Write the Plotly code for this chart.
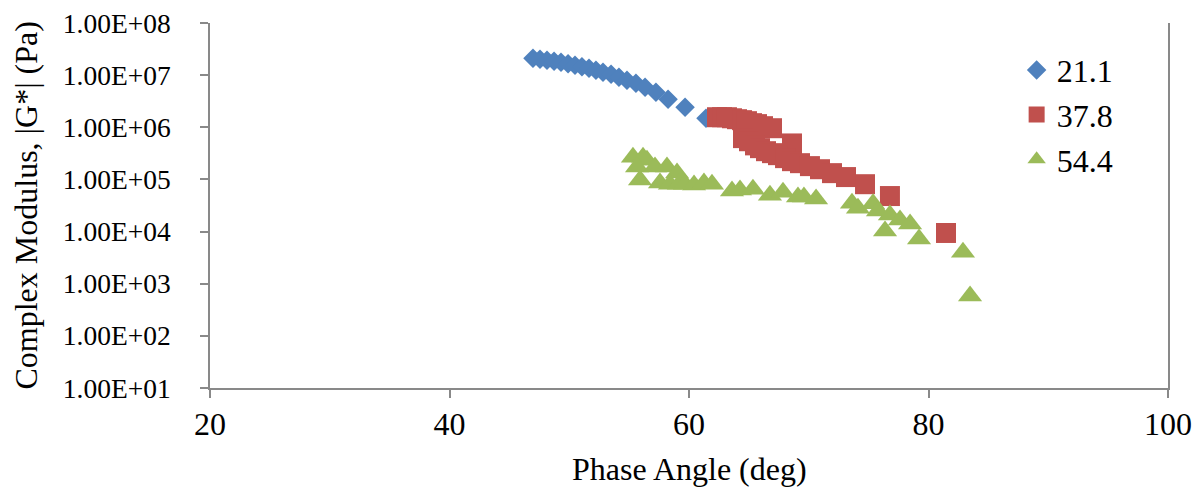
import plotly.graph_objects as go

# Series 21.1
phase_211 = [46.97, 47.56, 48.14, 48.73, 49.31, 49.90, 50.48, 51.06, 51.65, 52.23,
             52.82, 53.49, 54.15, 54.82, 55.57, 56.33, 57.24, 58.25, 59.67, 61.42]
g_211 = [2.11e7, 2.02e7, 1.93e7, 1.85e7, 1.77e7, 1.65e7, 1.55e7, 1.45e7, 1.36e7, 1.24e7,
         1.14e7, 1.04e7, 9.1e6, 8.0e6, 7.0e6, 5.87e6, 4.71e6, 3.45e6, 2.43e6, 1.49e6]

# Series 37.8
phase_378 = [62.34, 62.76, 63.17, 63.59, 64.01, 64.43, 64.84, 65.26, 65.68, 66.18, 66.93,
             68.60,
             64.51, 65.01, 65.51, 65.93, 66.43, 66.93, 67.43, 68.02, 68.60, 69.27,
             70.10, 70.94, 71.94, 73.11, 74.70, 76.78, 81.46]
g_378 = [1.56e6, 1.56e6, 1.56e6, 1.49e6, 1.43e6, 1.37e6, 1.31e6, 1.20e6, 1.15e6, 1.05e6, 9.6e5,
         4.9e5,
         6.2e5, 5.4e5, 4.5e5, 3.98e5, 3.48e5, 3.19e5, 2.92e5, 2.56e5, 2.24e5, 2.05e5,
         1.80e5, 1.57e5, 1.32e5, 1.11e5, 8.1e4, 4.8e4, 9.4e3]

# Series 54.4
phase_544 = [55.32, 56.16, 56.49, 55.66, 55.91, 57.16, 58.16, 59.00, 57.58, 58.41,
             59.16, 59.67, 60.42, 61.25, 61.92, 63.59, 64.26, 65.34, 66.76, 67.85,
             69.10, 69.60, 70.61, 73.61, 74.11, 75.37, 75.78, 76.37, 76.78, 77.62,
             78.46, 79.21, 82.88, 83.47]
g_544 = [2.67e5, 2.67e5, 2.34e5, 1.73e5, 9.7e4, 1.73e5, 1.73e5, 1.33e5, 8.5e4, 8.1e4,
         8.1e4, 8.1e4, 7.8e4, 8.5e4, 8.1e4, 5.97e4, 6.24e4, 6.5e4, 5.0e4, 5.7e4,
         4.58e4, 4.58e4, 4.2e4, 3.5e4, 2.8e4, 3.4e4, 2.47e4, 1.02e4, 2.07e4, 1.66e4,
         1.39e4, 7.2e3, 4.0e3, 5.8e2]

series_names = ["21.1", "37.8", "54.4"]
y_tick_vals = [1e1, 1e2, 1e3, 1e4, 1e5, 1e6, 1e7, 1e8]
y_tick_text = ["1.00E+01", "1.00E+02", "1.00E+03", "1.00E+04",
               "1.00E+05", "1.00E+06", "1.00E+07", "1.00E+08"]
x_tick_vals = [20, 40, 60, 80, 100]

FONT = "Liberation Serif"
AXIS_COLOR = "#898989"

fig = go.Figure()
fig.add_trace(go.Scatter(x=phase_211, y=g_211, mode="markers", name=series_names[0],
                         marker=dict(symbol="diamond", size=15, color="#4F81BD")))
fig.add_trace(go.Scatter(x=phase_378, y=g_378, mode="markers", name=series_names[1],
                         marker=dict(symbol="square", size=20, color="#C0504D")))
fig.add_trace(go.Scatter(x=phase_544, y=g_544, mode="markers", name=series_names[2],
                         marker=dict(symbol="triangle-up", size=21, color="#9BBB59")))

fig.update_layout(
    width=1204, height=489,
    margin=dict(l=210, r=36, t=23, b=101, autoexpand=False),
    paper_bgcolor="white", plot_bgcolor="white",
    font=dict(family=FONT, size=32, color="black"),
    showlegend=True,
    legend=dict(x=0.842, y=0.946, xanchor="left", yanchor="top",
                font=dict(family=FONT, size=32), bgcolor="rgba(0,0,0,0)",
                tracegroupgap=0),
    xaxis=dict(range=[20, 100], tickvals=x_tick_vals, ticks="outside", ticklen=8,
               tickcolor=AXIS_COLOR, tickwidth=1.5, showline=True, linecolor=AXIS_COLOR,
               linewidth=1.5, showgrid=False, zeroline=False, automargin=False,
               tickfont=dict(family=FONT, size=32), ticklabelstandoff=-1),
    yaxis=dict(type="log", range=[1, 8], tickvals=y_tick_vals, ticktext=y_tick_text,
               ticks="outside", ticklen=8, tickcolor=AXIS_COLOR, tickwidth=1.5,
               showline=True, linecolor=AXIS_COLOR, linewidth=1.5, mirror=True,
               showgrid=False, zeroline=False, automargin=False,
               tickfont=dict(family=FONT, size=27.5), ticklabelstandoff=24),
    annotations=[
        dict(text="Phase Angle (deg)", xref="paper", yref="paper", x=0.5, y=0,
             xanchor="center", yanchor="middle", yshift=-81, showarrow=False,
             font=dict(family=FONT, size=32)),
        dict(text="Complex Modulus, |G*| (Pa)", xref="paper", yref="paper", x=0, y=0.5,
             xanchor="center", yanchor="middle", xshift=-185, textangle=-90,
             showarrow=False, font=dict(family=FONT, size=32)),
    ],
)

fig.write_html("out.html", config={"displayModeBar": False},
               post_script="document.body.style.margin='0px';")
